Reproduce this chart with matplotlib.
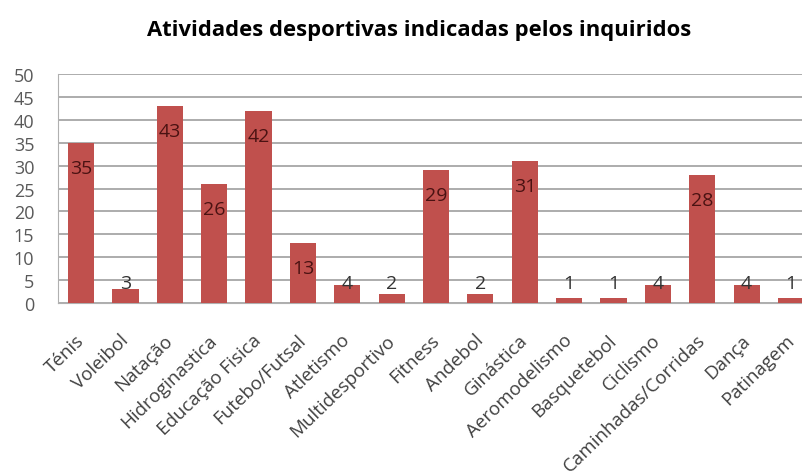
import matplotlib.pyplot as plt
from matplotlib import transforms

plt.rcParams['font.family'] = ['Open Sans', 'DejaVu Sans']

atividades = ['Ténis', 'Voleibol', 'Natação', 'Hidroginastica', 'Educação Fisica',
              'Futebo/Futsal', 'Atletismo', 'Multidesportivo', 'Fitness', 'Andebol',
              'Ginástica', 'Aeromodelismo', 'Basquetebol', 'Ciclismo',
              'Caminhadas/Corridas', 'Dança', 'Patinagem']
respostas = [35, 3, 43, 26, 42, 13, 4, 2, 29, 2, 31, 1, 1, 4, 28, 4, 1]
yticks = [0, 5, 10, 15, 20, 25, 30, 35, 40, 45, 50]

fig = plt.figure(figsize=(8.02, 4.77), dpi=100, facecolor='white')
ax = fig.add_axes([0.0723, 0.3627, 0.93, 0.480])

x = range(len(atividades))
ax.bar(x, respostas, width=0.59, color='#C0504D', zorder=3)

ax.set_ylim(0, 50)
ax.set_xlim(-0.52, 16.29)
ax.set_yticks(yticks)
ax.yaxis.grid(True, color='#A6A6A6', linewidth=1.3, zorder=0)
ax.tick_params(axis='y', length=0, labelsize=13, labelcolor='#595959', pad=17)
ax.tick_params(axis='x', length=0, pad=20)
ax.set_xticks(list(x))
ax.set_xticklabels(atividades, rotation=44, ha='right', rotation_mode='anchor',
                   fontsize=13.5, color='#404040')
# desloca um pouco os rótulos para a esquerda
shift = transforms.ScaledTranslation(-6 / 100, 0, fig.dpi_scale_trans)
for lbl in ax.get_xticklabels():
    lbl.set_transform(lbl.get_transform() + shift)

for s in ['top', 'right']:
    ax.spines[s].set_visible(False)
ax.spines['left'].set_color('#B0B0B0')
ax.spines['bottom'].set_color('#B0B0B0')

# rótulos dos valores
for i, v in enumerate(respostas):
    if v >= 10:
        off = transforms.offset_copy(ax.transData, fig=fig, x=0, y=-25, units='dots')
        ax.text(i, v, str(v), transform=off, ha='center', va='center',
                fontsize=14, color='#4A1212', zorder=4)
    else:
        ax.text(i, 4.4, str(v), ha='center', va='center',
                fontsize=14, color='#333333', zorder=4)

fig.text(0.522, 0.937, 'Atividades desportivas indicadas pelos inquiridos',
         ha='center', va='center', fontsize=15.8, fontweight='bold', color='black')

fig.savefig('out.png', dpi=100)
